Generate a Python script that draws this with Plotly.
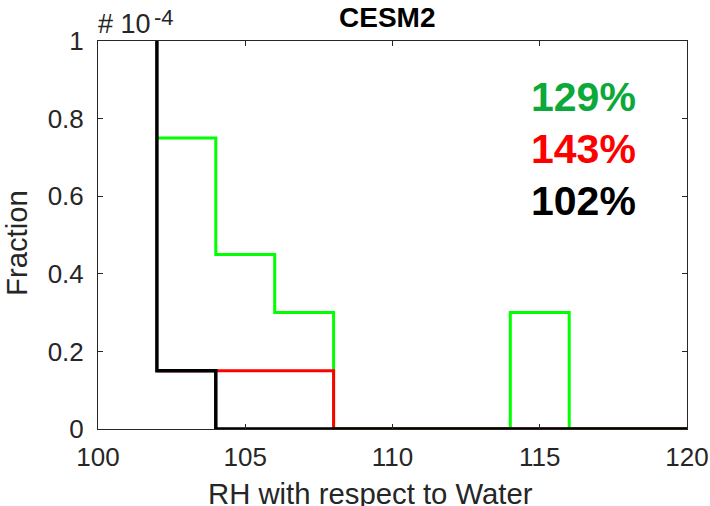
import numpy as np
import plotly.graph_objects as go

# Histogram bin edges (RH with respect to water, %)
bin_edges = [100, 102, 104, 106, 108, 110, 112, 114, 116, 118, 120]
# Fractions (x 1e-4) per bin; NaN = not drawn
green_vals = [np.nan, 0.75, 0.45, 0.30, 0.0, 0.0, 0.0, 0.30, 0.0, 0.0]
red_vals = [np.nan, 0.15, 0.15, 0.15, 0.0, 0.0, 0.0, 0.0, 0.0, 0.0]
black_vals = [2.0, 0.15, 0.0, 0.0, 0.0, 0.0, 0.0, 0.0, 0.0, 0.0]  # first bin off-scale

labels = ["129%", "143%", "102%"]
label_colors = ["#0ba83a", "#ff0000", "#000000"]

x_ticks = [100, 105, 110, 115, 120]
y_ticks = [0, 0.2, 0.4, 0.6, 0.8, 1]
y_ticklabels = ["0", "0.2", "0.4", "0.6", "0.8", "1"]


def stairs(edges, vals):
    xs, ys = [], []
    for i, v in enumerate(vals):
        xs += [edges[i], edges[i + 1]]
        ys += [v, v]
    return xs, ys


fig = go.Figure()
for vals, col, lw in [(green_vals, "#00ff00", 3), (red_vals, "#ff0000", 3),
                      (black_vals, "#000000", 3.5)]:
    xs, ys = stairs(bin_edges, vals)
    fig.add_trace(go.Scatter(x=xs, y=ys, mode="lines",
                             line=dict(color=col, width=lw),
                             connectgaps=False, showlegend=False, hoverinfo="skip"))

L, R, T, B = 98, 23, 41, 77
W, H = 710, 506
pw, ph = W - L - R, H - T - B

axis_col = "#262626"
fam = "Liberation Sans, Arial, sans-serif"
fig.update_layout(
    width=W, height=H,
    margin=dict(l=L, r=R, t=T, b=B, autoexpand=False),
    paper_bgcolor="white", plot_bgcolor="white",
    font=dict(family=fam, color=axis_col),
    xaxis=dict(range=[100, 120], tickvals=x_ticks, ticks="inside", ticklen=5,
               tickcolor=axis_col, showline=True, linecolor=axis_col, linewidth=1,
               mirror="ticks", showgrid=False, zeroline=False, automargin=False,
               tickfont=dict(size=26, color=axis_col), ticklabelstandoff=5),
    yaxis=dict(range=[0, 1], tickvals=y_ticks, ticktext=y_ticklabels, ticks="inside",
               ticklen=5, tickcolor=axis_col, showline=True, linecolor=axis_col,
               linewidth=1, mirror="ticks", showgrid=False, zeroline=False, automargin=False,
               tickfont=dict(size=26, color=axis_col), ticklabelstandoff=8),
)

# Title
fig.add_annotation(text="<b>CESM2</b>", xref="paper", yref="paper",
                   x=(387 - L) / pw, y=(T - 17) / ph + 1, xanchor="center", yanchor="middle",
                   showarrow=False, font=dict(size=28, color="#000000", family=fam))
# Axis titles
fig.add_annotation(text="RH with respect to Water", xref="paper", yref="paper",
                   x=(370.5 - L) / pw, y=-(493 - (T + ph)) / ph, xanchor="center", yanchor="middle",
                   showarrow=False, font=dict(size=29.3, color=axis_col, family=fam))
fig.add_annotation(text="Fraction", xref="paper", yref="paper", textangle=-90,
                   x=-(L - 17) / pw, y=(T + ph - 243) / ph, xanchor="center", yanchor="middle",
                   showarrow=False, font=dict(size=29.3, color=axis_col, family=fam))
# Exponent
fig.add_annotation(text="# 10", xref="paper", yref="paper", x=-2 / pw, y=(T - 24) / ph + 1,
                   xanchor="left", yanchor="middle", showarrow=False,
                   font=dict(size=27, color=axis_col, family=fam))
fig.add_annotation(text="-4", xref="paper", yref="paper", x=(152 - L) / pw, y=(T - 17) / ph + 1,
                   xanchor="left", yanchor="middle", showarrow=False,
                   font=dict(size=22, color=axis_col, family=fam))

for i, (t, c) in enumerate(zip(labels, label_colors)):
    fig.add_annotation(text=f"<b>{t}</b>", xref="paper", yref="paper",
                       x=(638 - L) / pw, y=(T + ph - (97 + 52 * i)) / ph,
                       xanchor="right", yanchor="middle", showarrow=False,
                       font=dict(size=41, color=c, family=fam))

fig.write_html("out.html")
